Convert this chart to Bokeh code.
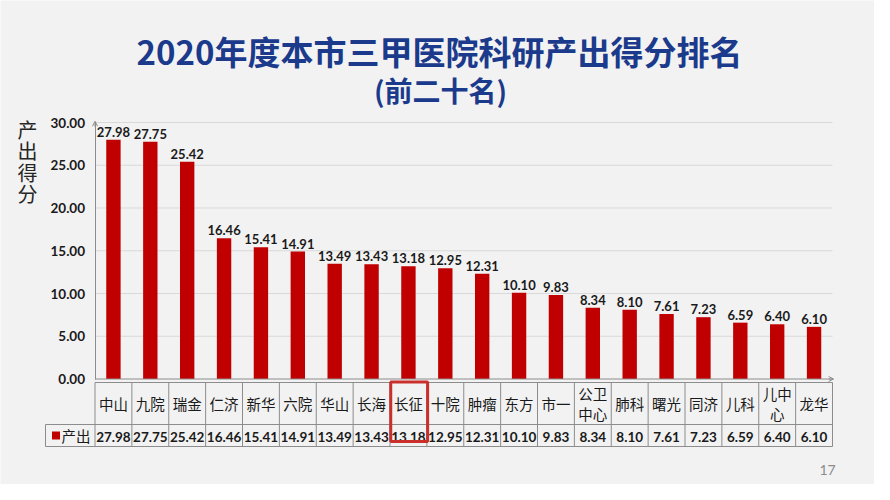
from bokeh.plotting import figure
from bokeh.models import Range1d, FixedTicker, PrintfTickFormatter, ColumnDataSource, Arrow, OpenHead
from bokeh.core.properties import value
from bokeh.embed import file_html
from bokeh.resources import INLINE

# ---------------- data ----------------
CATEGORIES = ["中山", "九院", "瑞金", "仁济", "新华", "六院", "华山", "长海", "长征", "十院",
              "肿瘤", "东方", "市一", "公卫\n中心", "肺科", "曙光", "同济", "儿科", "儿中\n心", "龙华"]
VALUES = [27.98, 27.75, 25.42, 16.46, 15.41, 14.91, 13.49, 13.43, 13.18, 12.95,
          12.31, 10.10, 9.83, 8.34, 8.10, 7.61, 7.23, 6.59, 6.40, 6.10]
SERIES_NAME = "产出"
Y_TICKS = [0, 5, 10, 15, 20, 25, 30]
HIGHLIGHT = "长征"
TITLE = "2020年度本市三甲医院科研产出得分排名"
SUBTITLE = "(前二十名)"
Y_LABEL = "产\n出\n得\n分"
PAGE_NO = "17"

# ---------------- layout (image pixel geometry) ----------------
W, H = 874, 484
OFF = 8
X0 = 102.5                 # image x where categories start
CW = (840 - X0) / len(CATEGORIES)
Y0 = 386.5                 # image y of value 0
PY = (Y0 - 130) / max(Y_TICKS)

def dx(px):
    return (px - X0) / CW

def dy(py):
    return (Y0 - py) / PY

BG = "#f2f2f2"
BAR = "#c00000"
GRID = "#d9d9d9"
LINE = "#8c8c8c"
TXT = "#1a1a1a"
CJK = value("Noto Sans CJK SC")
NUM = value("Lato")

p = figure(width=W, height=H, output_backend="svg", toolbar_location=None,
           x_range=Range1d(dx(OFF), dx(OFF + W)), y_range=Range1d(dy(OFF + H), dy(OFF)),
           x_axis_location=None, y_axis_location="left", title=None,
           min_border=0, min_border_left=0, min_border_right=0, min_border_top=0, min_border_bottom=0)
p.background_fill_color = BG
p.border_fill_color = BG
p.outline_line_color = None
p.xgrid.visible = False
p.ygrid.visible = False

n = len(CATEGORIES)
xs = [i + 0.5 for i in range(n)]

# gridlines
p.segment(x0=[0] * (len(Y_TICKS) - 1), x1=[n] * (len(Y_TICKS) - 1), y0=Y_TICKS[1:], y1=Y_TICKS[1:],
          line_color=GRID, line_width=1)

# bars
src = ColumnDataSource(dict(x=xs, top=VALUES, lab=["%.2f" % v for v in VALUES]))
p.vbar(x="x", top="top", width=0.39, bottom=0, source=src, fill_color=BAR, line_color=None)
p.text(x="x", y="top", text="lab", source=src, text_align="center", text_baseline="bottom",
       y_offset=-3, text_font=NUM, text_font_style="bold", text_font_size="13px", text_color=TXT)

# baseline (x axis)
p.segment(x0=[0], x1=[n], y0=[0], y1=[0], line_color=LINE, line_width=1)
p.add_layout(Arrow(end=OpenHead(size=5, line_color=LINE, line_width=1), x_start=n - 0.1, y_start=0,
                   x_end=n + 0.03, y_end=0, line_color=LINE, line_width=1))
p.add_layout(Arrow(end=OpenHead(size=5, line_color=LINE, line_width=1), x_start=0, y_start=max(Y_TICKS) - 0.5,
                   x_end=0, y_end=max(Y_TICKS) + 0.15, line_color=LINE, line_width=1))

# y axis
ax = p.yaxis[0]
ax.fixed_location = 0
ax.bounds = (0, max(Y_TICKS))
ax.ticker = FixedTicker(ticks=Y_TICKS)
ax.formatter = PrintfTickFormatter(format="%.2f")
ax.minor_tick_line_color = None
ax.major_tick_line_color = None
ax.major_tick_in = 0
ax.major_tick_out = 0
ax.major_label_standoff = 10
ax.axis_line_color = LINE
ax.major_label_text_font = "Lato"
ax.major_label_text_font_style = "bold"
ax.major_label_text_font_size = "13.5px"
ax.major_label_text_color = TXT

# ---------------- data table ----------------
T_TOP, T_MID, T_BOT, T_LEFT = 390, 432, 454, 53
vx = [i for i in range(n + 1)]
p.segment(x0=vx, x1=vx, y0=[dy(T_TOP)] * len(vx), y1=[dy(T_BOT)] * len(vx), line_color=LINE, line_width=1)
p.segment(x0=[0, dx(T_LEFT), dx(T_LEFT)], x1=[n, n, n], y0=[dy(T_TOP), dy(T_MID), dy(T_BOT)],
          y1=[dy(T_TOP), dy(T_MID), dy(T_BOT)], line_color=LINE, line_width=1)
p.segment(x0=[dx(T_LEFT)], x1=[dx(T_LEFT)], y0=[dy(T_MID)], y1=[dy(T_BOT)], line_color=LINE, line_width=1)

p.text(x=xs, y=[dy((T_TOP + T_MID) / 2)] * n, text=CATEGORIES, text_align="center", text_baseline="middle",
       text_font=CJK, text_font_size="14.5px", text_color=TXT, text_line_height=0.98)
p.text(x=xs, y=[dy((T_MID + T_BOT) / 2 + 1)] * n, text=["%.2f" % v for v in VALUES], text_align="center",
       text_baseline="middle", text_font=NUM, text_font_style="bold", text_font_size="13.5px", text_color=TXT)

# legend key cell
p.rect(x=[dx(63.5)], y=[dy((T_MID + T_BOT) / 2)], width=8, height=8, width_units="screen",
       height_units="screen", fill_color=BAR, line_color=None)
p.text(x=[dx(69)], y=[dy((T_MID + T_BOT) / 2)], text=[SERIES_NAME], text_align="left", text_baseline="middle",
       text_font=CJK, text_font_size="14.5px", text_color=TXT)

# highlight box
hi = CATEGORIES.index(HIGHLIGHT)
p.quad(left=[hi + 0.02], right=[hi + 1.02], top=[dy(T_TOP - 0.5)], bottom=[dy(449)],
       fill_color=None, line_color="#c9302c", line_width=3)

# titles & labels
p.text(x=[dx(447)], y=[dy(58)], text=[TITLE], text_align="center", text_baseline="middle",
       text_font=CJK, text_font_style="bold", text_font_size="33px", text_color="#1b3a8c")
p.text(x=[dx(448)], y=[dy(97)], text=[SUBTITLE], text_align="center", text_baseline="middle",
       text_font=CJK, text_font_style="bold", text_font_size="28px", text_color="#1b3a8c")
p.text(x=[dx(35)], y=[dy(169)], text=[Y_LABEL], text_align="center", text_baseline="middle",
       text_font=CJK, text_font_size="20px", text_color="#262626", text_line_height=0.74)
p.text(x=[dx(835)], y=[dy(477)], text=[PAGE_NO], text_align="center", text_baseline="middle",
       text_font=value("Lato"), text_font_size="14px", text_color="#8c8c8c")

open("out.html", "w").write(file_html(p, INLINE))
